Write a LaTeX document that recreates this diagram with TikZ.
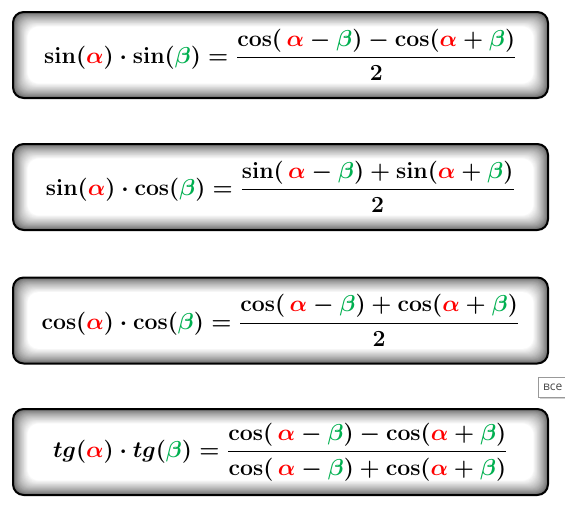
\documentclass[tikz,border=0pt]{standalone}
\usepackage{amsmath, amssymb}
\usepackage{fontspec}
\usepackage{tikz}
\usetikzlibrary{shadows}
\newfontfamily\labelfont{Open Sans}
\definecolor{alphared}{RGB}{255,0,0}
\definecolor{betagreen}{RGB}{0,176,80}
\definecolor{edgegray}{RGB}{95,95,95}
\newcommand{\redal}{{\color{alphared}\alpha}}
\newcommand{\grbe}{{\color{betagreen}\beta}}
\tikzset{
  formulabox/.style={draw=black, line width=1.5pt, rounded corners=8pt,
    minimum width=401.25pt, minimum height=64.5pt, inner sep=0pt,
    fill=edgegray, font=\boldmath\fontsize{17}{20}\selectfont,
    path picture={
      \foreach \i [evaluate=\i as \w using int(100*(\i/20)^0.7)] in {1,...,20}
        \fill[white!\w!edgegray, rounded corners=8pt]
          ([shift={(\i*0.55pt,\i*0.55pt)}]path picture bounding box.south west)
          rectangle ([shift={(-\i*0.55pt,-\i*0.55pt)}]path picture bounding box.north east);
    }},
  taglabel/.style={draw=gray!80, fill=white, line width=0.6pt, inner xsep=3.5pt,
    minimum height=15pt, text=black!70, font=\labelfont\fontsize{9}{10}\selectfont,
    drop shadow={shadow xshift=1.2pt, shadow yshift=-1.5pt, fill=gray!35, opacity=1}},
}
\begin{document}
\begin{tikzpicture}[x=0.75pt,y=-0.75pt]
\useasboundingbox (0,0) rectangle (565,508);
\clip (0,0) rectangle (565,508);
% formula boxes
\node[formulabox] (sinsin) at (280.5,55)
  {$\mathbf{sin}(\redal)\cdot\mathbf{sin}(\grbe)=\dfrac{\mathbf{cos}(\,\redal-\grbe)-\mathbf{cos}(\redal+\grbe)}{2}$};
\node[formulabox] (sincos) at (280.5,187)
  {$\mathbf{sin}(\redal)\cdot\mathbf{cos}(\grbe)=\dfrac{\mathbf{sin}(\,\redal-\grbe)+\mathbf{sin}(\redal+\grbe)}{2}$};
\node[formulabox] (coscos) at (280.5,320.5)
  {$\mathbf{cos}(\redal)\cdot\mathbf{cos}(\grbe)=\dfrac{\mathbf{cos}(\,\redal-\grbe)+\mathbf{cos}(\redal+\grbe)}{2}$};
\node[formulabox] (tgtg) at (280.5,452)
  {$tg(\redal)\cdot tg(\grbe)=\dfrac{\mathbf{cos}(\,\redal-\grbe)-\mathbf{cos}(\redal+\grbe)}{\mathbf{cos}(\,\redal-\grbe)+\mathbf{cos}(\redal+\grbe)}$};
% tag
\node[taglabel, anchor=north west] (vse) at (538,377) {все};
\end{tikzpicture}
\end{document}
